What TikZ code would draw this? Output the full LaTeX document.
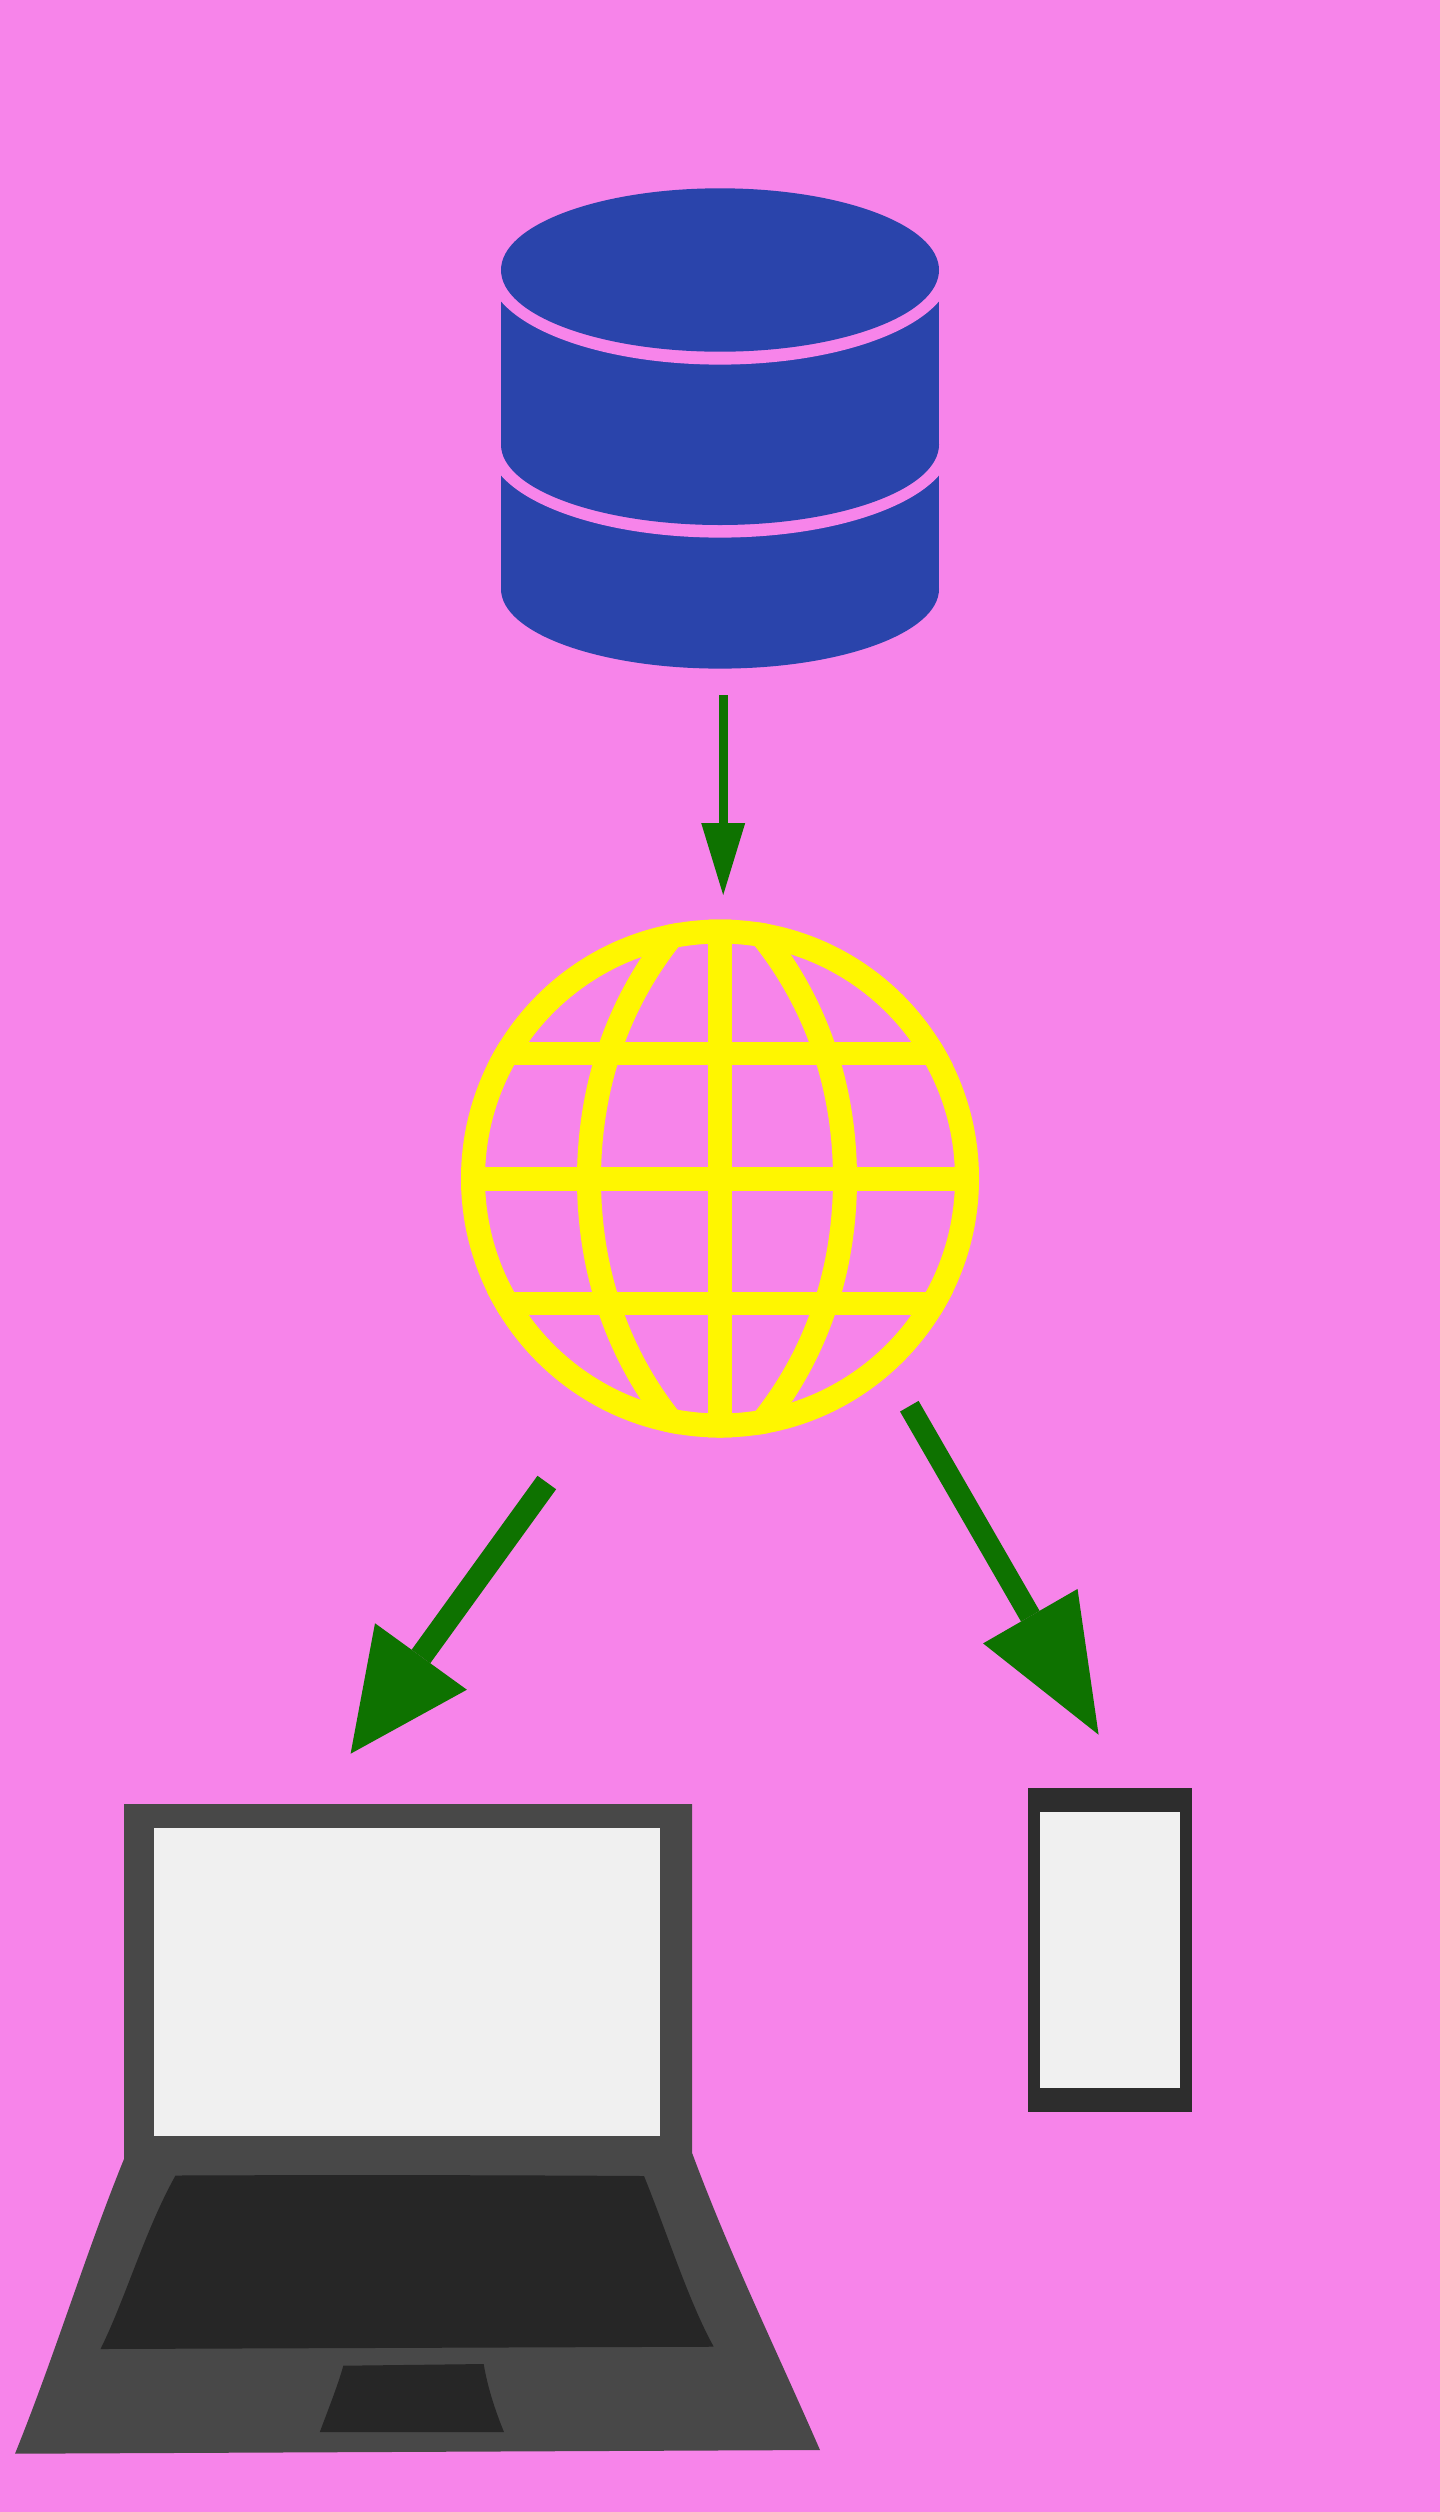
\documentclass[tikz,border=0pt]{standalone}
\usetikzlibrary{arrows.meta}
\definecolor{bgpink}{HTML}{F784EA}
\definecolor{dbblue}{HTML}{2A44AB}
\definecolor{arrowgreen}{HTML}{0E7200}
\definecolor{globeyellow}{HTML}{FFF600}
\definecolor{laptopgrey}{HTML}{484848}
\definecolor{keydark}{HTML}{262626}
\definecolor{screenwhite}{HTML}{F0F0F0}
\definecolor{phonegrey}{HTML}{2D2D2D}
\tikzset{
  x=1pt,y=-1pt,
  dbfill/.style={fill=dbblue,draw=none},
  dbgap/.style={fill=bgpink,draw=none},
  globeline/.style={draw=globeyellow,line width=24pt},
  globebar/.style={draw=globeyellow,line width=23.5pt},
  screenpanel/.style={fill=screenwhite,draw=none},
  keypanel/.style={fill=keydark,draw=none},
  flowshaft/.style={draw=arrowgreen,fill=arrowgreen}
}
\begin{document}
\begin{tikzpicture}
\useasboundingbox (0,0) rectangle (1440,2512);
\fill[bgpink] (0,0) rectangle (1440,2512);

% database
\fill[dbfill] (720,589) ellipse [x radius=219,y radius=79.6];
\fill[dbfill] (501,444.6) rectangle (939,589);
\fill[dbgap] (720,444.6) ellipse [x radius=232,y radius=93];
\fill[dbfill] (720,444.6) ellipse [x radius=219,y radius=80.4];
\fill[dbfill] (501,270) rectangle (939,444.6);
\fill[dbgap] (720,270) ellipse [x radius=232,y radius=94.6];
\fill[dbfill] (720,270) ellipse [x radius=219,y radius=81.7];

% globe
\coordinate (gc) at (720,1178.5);
\begin{scope}
  \clip (gc) circle [radius=259];
  \draw[globebar] (461,1053.7) -- (979,1053.7);
  \draw[globebar] (461,1179) -- (979,1179);
  \draw[globebar] (461,1303.7) -- (979,1303.7);
  \draw[globeline] (720,919) -- (720,1438);
  \draw[globeline] (681,925) .. controls (616,1000) and (589,1090) .. (589,1179)
     .. controls (589,1268) and (616,1358) .. (681,1433);
  \draw[globeline] (753,925) .. controls (818,1000) and (845,1090) .. (845,1179)
     .. controls (845,1268) and (818,1358) .. (753,1433);
\end{scope}
\draw[globeline] (gc) circle [radius=247];

% flow arrows
\coordinate (a1s) at (723.2,695);
\coordinate (a1e) at (723.2,895);
\draw[flowshaft,line width=9pt,-{Triangle[length=72pt,width=44pt,line width=0pt]}] (a1s) -- (a1e);
\coordinate (a2s) at (546.8,1482.5);
\coordinate (a2e) at (350.6,1753.7);
\draw[flowshaft,line width=23pt,-{Triangle[length=120pt,width=113.4pt,line width=0pt]}] (a2s) -- (a2e);
\coordinate (a3s) at (909.3,1406.2);
\coordinate (a3e) at (1098.6,1734.7);
\draw[flowshaft,line width=21.4pt,-{Triangle[length=136.8pt,width=109pt,line width=0pt]}] (a3s) -- (a3e);

% laptop
\fill[laptopgrey] (124,1804) -- (692,1804) -- (692,2152.7)
  .. controls (730,2255) and (775,2347) .. (820,2450)
  -- (15,2453.7)
  .. controls (55,2355) and (85,2255) .. (124,2159) -- cycle;
\fill[screenpanel] (154,1828) rectangle (660,2136);
\fill[keypanel] (175.5,2175.5) .. controls (330,2174.8) and (490,2175) .. (644,2176)
  .. controls (668,2235) and (688,2300) .. (713.7,2346.7)
  -- (100.5,2349)
  .. controls (125,2300) and (145,2230) .. (175.5,2175.5) -- cycle;
\fill[keypanel] (343.3,2365.7) -- (483.7,2364)
  .. controls (488,2390) and (497,2415) .. (504,2432)
  -- (319.8,2432)
  .. controls (328,2410) and (338,2385) .. (343.3,2365.7) -- cycle;

% phone
\fill[phonegrey] (1028,1788) rectangle (1192,2112);
\fill[screenpanel] (1040,1812) rectangle (1180,2088);
\end{tikzpicture}
\end{document}
